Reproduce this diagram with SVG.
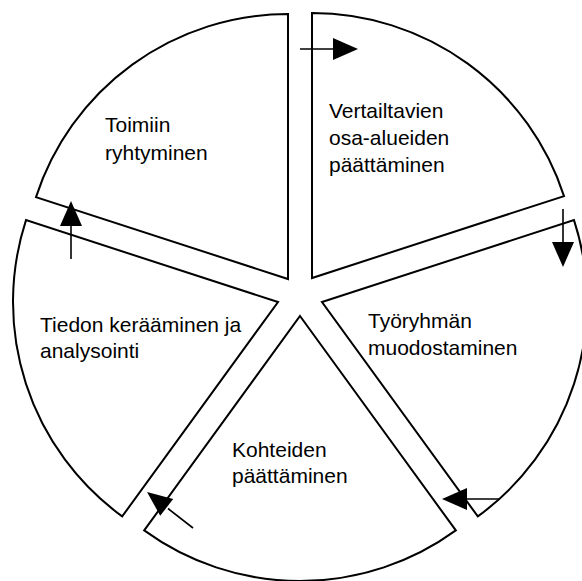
<svg xmlns="http://www.w3.org/2000/svg" width="582" height="581" viewBox="0 0 582 581">
<style>
.sec{fill:#fff;stroke:#000;stroke-width:2;stroke-linejoin:miter}
.t{font-family:"Liberation Sans",Arial,sans-serif;font-size:21px;fill:#000}
.ln{stroke:#000;stroke-width:1.6;fill:none}
.hd{fill:#000;stroke:none}
</style>
<rect width="582" height="581" fill="#fff"/>
<g id="n0">
<path class="sec" d="M288,279 L288,14 A265,265 0 0 0 36,197.1 Z"/>
<text class="t" x="105" y="132">Toimiin</text>
<text class="t" x="105" y="160">ryhtyminen</text>
</g>
<g id="n1">
<path class="sec" d="M312,278 L312,13 A265,265 0 0 1 564,196.1 Z"/>
<text class="t" x="329" y="118">Vertailtavien</text>
<text class="t" x="329" y="145">osa-alueiden</text>
<text class="t" x="329" y="172">päättäminen</text>
</g>
<g id="n2">
<path class="sec" d="M322,302 L574,220.1 A265,265 0 0 1 477.8,516.4 Z"/>
<text class="t" x="368" y="328">Työryhmän</text>
<text class="t" x="368" y="355">muodostaminen</text>
</g>
<g id="n3">
<path class="sec" d="M300,316 L455.8,530.4 A265,265 0 0 1 144.2,530.4 Z"/>
<text class="t" x="232" y="457">Kohteiden</text>
<text class="t" x="232" y="483">päättäminen</text>
</g>
<g id="n4">
<path class="sec" d="M278,302 L26,220.1 A265,265 0 0 0 122.2,516.4 Z"/>
<text class="t" x="40" y="332">Tiedon kerääminen ja</text>
<text class="t" x="40" y="358">analysointi</text>
</g>
<g id="connectors">
<line class="ln" x1="300" y1="49" x2="335" y2="49"/>
<polygon class="hd" points="358,49 333,38 333,60"/>
<line class="ln" x1="563" y1="209" x2="563" y2="244"/>
<polygon class="hd" points="563,267 552,242 574,242"/>
<line class="ln" x1="500" y1="499" x2="465" y2="499"/>
<polygon class="hd" points="442,499 467,488 467,510"/>
<line class="ln" x1="193" y1="528" x2="168" y2="508.5"/>
<polygon class="hd" points="147,492 173.2,499.1 160.2,515.7"/>
<line class="ln" x1="71" y1="259" x2="71" y2="224"/>
<polygon class="hd" points="71,201 60,226 82,226"/>
</g>
</svg>
